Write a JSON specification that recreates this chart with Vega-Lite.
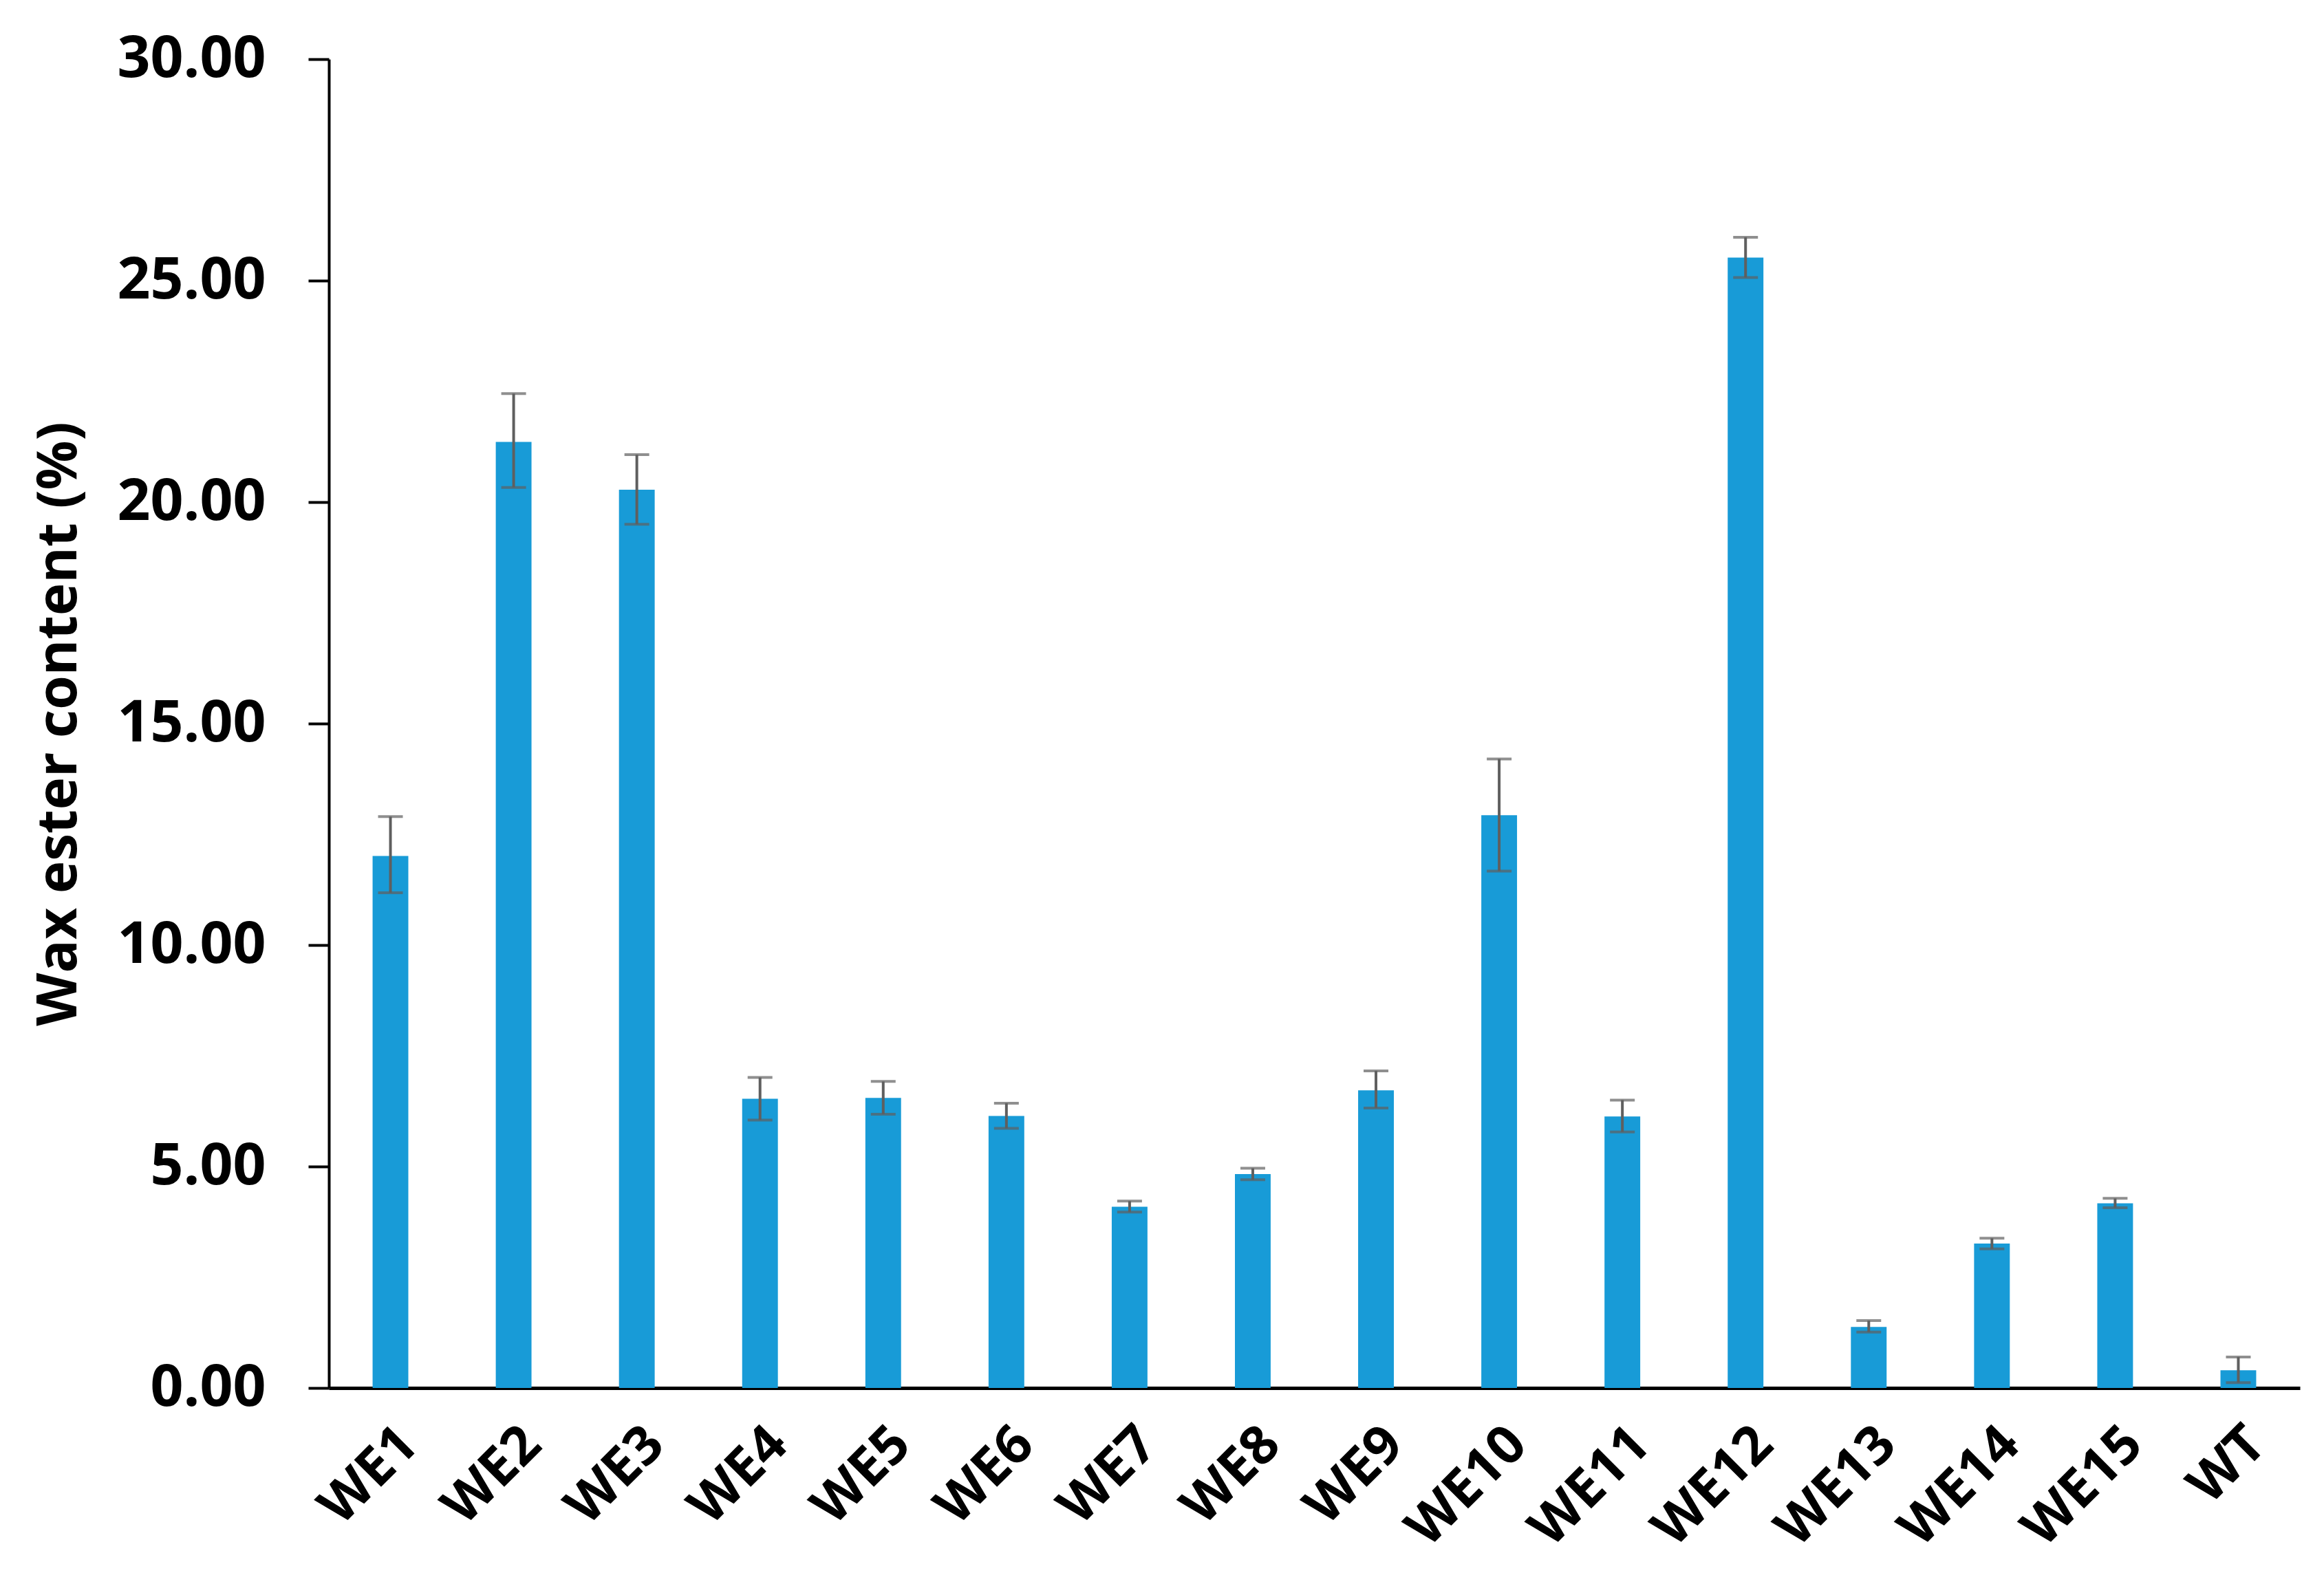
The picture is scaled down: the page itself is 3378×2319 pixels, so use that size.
{
  "$schema": "https://vega.github.io/schema/vega-lite/v6.json",
  "autosize": "none",
  "width": 2865,
  "height": 1932,
  "padding": {"left": 478, "top": 86, "right": 35, "bottom": 301},
  "background": "white",
  "config": {"view": {"stroke": null}, "font": "Open Sans"},
  "data": {
    "values": [
      {"line": "WE1", "value": 12.01, "lower": 11.18, "upper": 12.90},
      {"line": "WE2", "value": 21.36, "lower": 20.33, "upper": 22.45},
      {"line": "WE3", "value": 20.28, "lower": 19.50, "upper": 21.07},
      {"line": "WE4", "value": 6.53, "lower": 6.05, "upper": 7.01},
      {"line": "WE5", "value": 6.55, "lower": 6.18, "upper": 6.92},
      {"line": "WE6", "value": 6.14, "lower": 5.86, "upper": 6.43},
      {"line": "WE7", "value": 4.09, "lower": 3.97, "upper": 4.22},
      {"line": "WE8", "value": 4.83, "lower": 4.70, "upper": 4.96},
      {"line": "WE9", "value": 6.72, "lower": 6.32, "upper": 7.16},
      {"line": "WE10", "value": 12.93, "lower": 11.67, "upper": 14.20},
      {"line": "WE11", "value": 6.13, "lower": 5.78, "upper": 6.50},
      {"line": "WE12", "value": 25.52, "lower": 25.07, "upper": 25.98},
      {"line": "WE13", "value": 1.38, "lower": 1.26, "upper": 1.52},
      {"line": "WE14", "value": 3.26, "lower": 3.14, "upper": 3.38},
      {"line": "WE15", "value": 4.17, "lower": 4.07, "upper": 4.28},
      {"line": "WT", "value": 0.40, "lower": 0.12, "upper": 0.70}
    ]
  },
  "encoding": {
    "x": {
      "field": "line",
      "type": "nominal",
      "sort": null,
      "scale": {"paddingInner": 0.71, "paddingOuter": 0.355},
      "axis": {
        "title": null,
        "labelAngle": -45,
        "labelFont": "Open Sans",
        "labelFontWeight": "bold",
        "labelFontSize": 78,
        "labelColor": "#000000",
        "labelLimit": 1000,
        "labelPadding": 42,
        "ticks": false,
        "tickSize": 0,
        "domainColor": "#000000",
        "domainWidth": 5,
        "grid": false
      }
    }
  },
  "layer": [
    {
      "mark": {"type": "bar", "color": "#189bd7"},
      "encoding": {
        "y": {
          "field": "value",
          "type": "quantitative",
          "scale": {"domain": [0, 30], "nice": false},
          "axis": {
            "title": "Wax ester content (%)",
            "titleFont": "Open Sans",
            "titleFontWeight": "bold",
            "titleFontSize": 80,
            "titleColor": "#000000",
            "titleX": -392,
            "titleY": 966,
            "titleAngle": -90,
            "titleAlign": "center",
            "titleBaseline": "middle",
            "values": [0, 5, 10, 15, 20, 25, 30],
            "format": ".2f",
            "labelFont": "Open Sans",
            "labelFontWeight": "bold",
            "labelFontSize": 84,
            "labelColor": "#000000",
            "labelLimit": 1000,
            "labelPadding": 62,
            "tickSize": 30,
            "tickWidth": 4,
            "tickColor": "#000000",
            "domainColor": "#000000",
            "domainWidth": 4,
            "grid": false
          }
        }
      }
    },
    {
      "mark": {"type": "rule", "color": "#5f5f5f", "strokeWidth": 4},
      "encoding": {
        "y": {"field": "lower", "type": "quantitative"},
        "y2": {"field": "upper"}
      }
    },
    {
      "mark": {"type": "tick", "orient": "horizontal", "color": "#5f5f5f", "size": 36, "thickness": 4},
      "encoding": {"y": {"field": "upper", "type": "quantitative"}}
    },
    {
      "mark": {"type": "tick", "orient": "horizontal", "color": "#5f5f5f", "size": 36, "thickness": 4},
      "encoding": {"y": {"field": "lower", "type": "quantitative"}}
    }
  ]
}
